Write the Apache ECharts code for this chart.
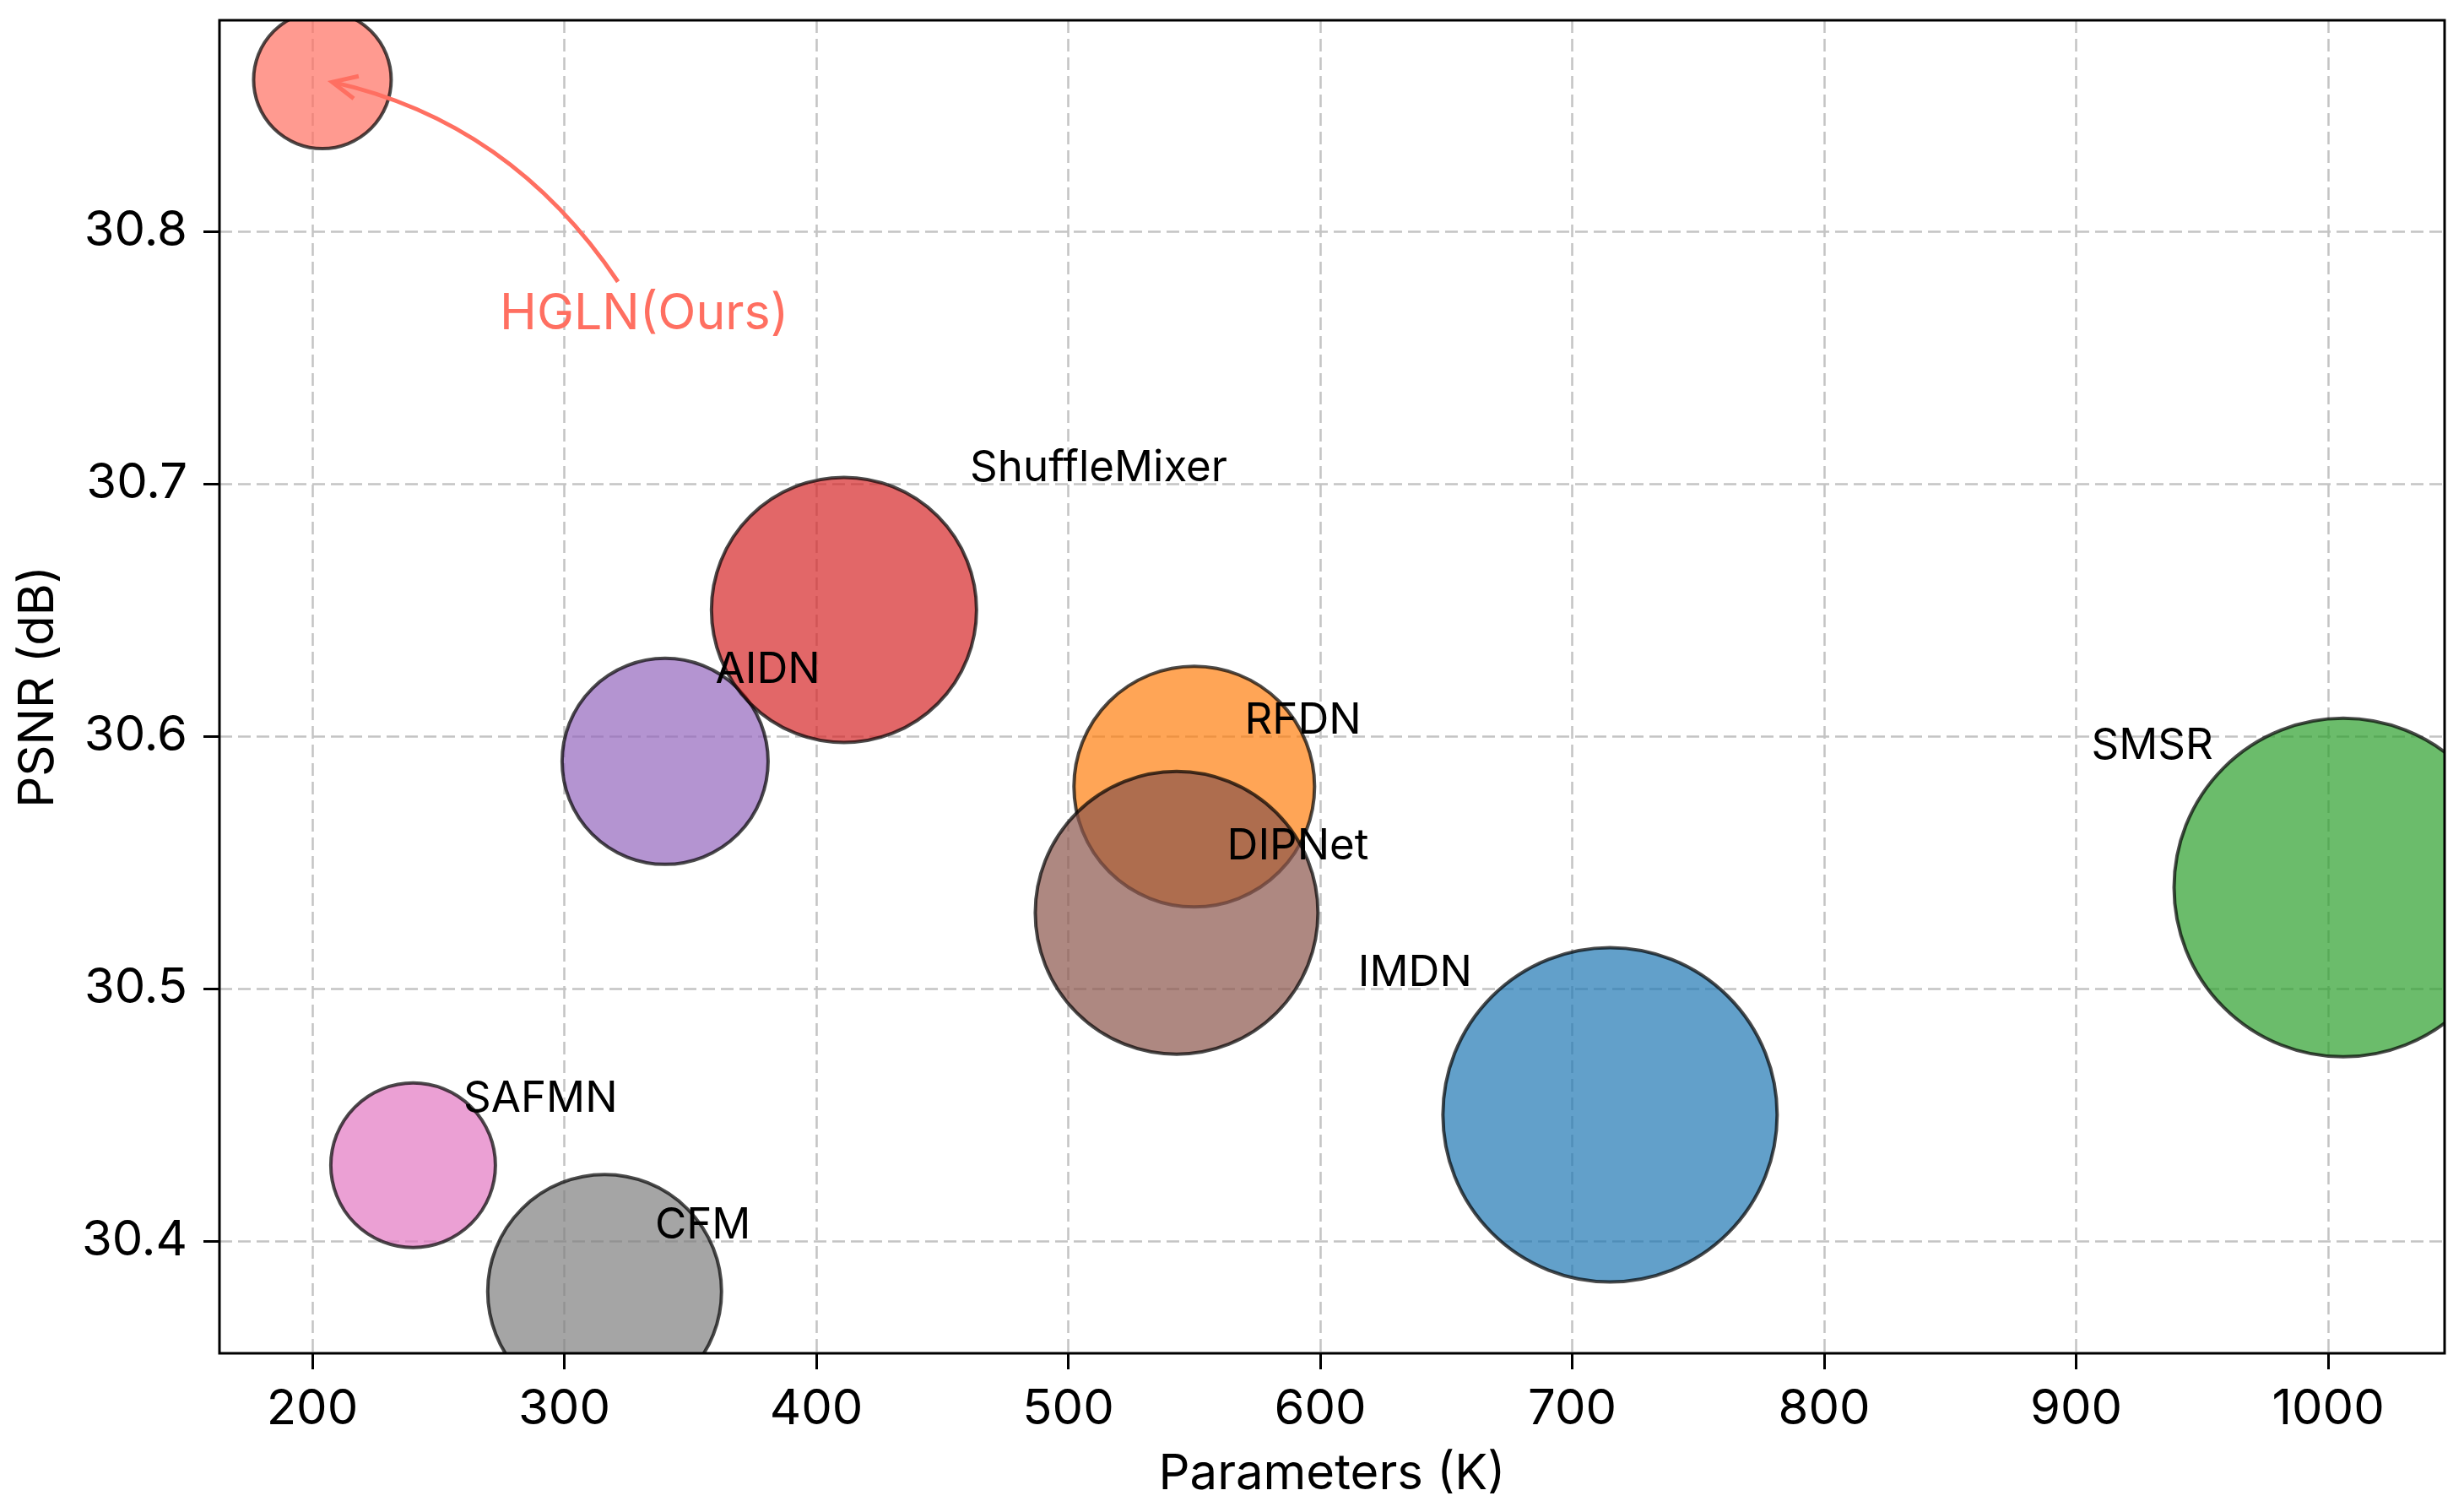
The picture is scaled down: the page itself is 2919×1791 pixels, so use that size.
<!DOCTYPE html>
<html>
<head>
<meta charset="utf-8">
<title>PSNR vs Parameters</title>
<script src="https://cdn.jsdelivr.net/npm/echarts@6/dist/echarts.min.js"></script>
<style>
  html, body { margin: 0; padding: 0; background: #fff; }
  #chart { width: 2919px; height: 1791px; }
</style>
</head>
<body>
<div id="chart"></div>
<script>
  // values
  var models = ['HGLN(Ours)', 'SAFMN', 'CFM', 'AIDN', 'ShuffleMixer', 'RFDN', 'DIPNet', 'IMDN', 'SMSR'];
  var params = [204, 240, 316, 340, 411, 550, 543, 715, 1006];
  var psnr   = [30.86, 30.43, 30.38, 30.59, 30.65, 30.58, 30.53, 30.45, 30.54];
  var area   = [1530, 2190, 4420, 3430, 5680, 4680, 6460, 9030, 9260];   // marker area, pt^2
  var xTicks = [200, 300, 400, 500, 600, 700, 800, 900, 1000];
  var yTicks = [30.4, 30.5, 30.6, 30.7, 30.8];

  // styling
  var FONT = 'Inter';
  var colors = ['#FF6F61', '#e377c2', '#7f7f7f', '#9467bd', '#d62728', '#ff7f0e', '#8c564b', '#1f77b4', '#2ca02c'];
  // text offset from each bubble, in data units (x, y)
  var labelShift = [null, [20, 0.02], [20, 0.02], [20, 0.03], [50, 0.05], [20, 0.02], [20, 0.02], [-100, 0.05], [-100, 0.05]];
  var ours = 0;
  var annotAt = [331.7, 30.767];     // centre of "HGLN(Ours)"
  var arrowFrom = [321.3, 30.780];   // where the arrow leaves the text
  var ARC = 0.2, SHRINK = 12, HEAD = 32, HEAD_ANGLE = 25 * Math.PI / 180;
  var PX_PER_PT = 300 / 72;
  var MID = 0.364;                   // cap centre above baseline, em
  var LABEL_SIZE = 51, ANNOT_SIZE = 59, AXIS_SIZE = 58;

  var data = models.map(function (m, i) { return [params[i], psnr[i], area[i]]; });

  function renderBubble(p, api) {
    var i = p.dataIndex;
    var c = api.coord([api.value(0), api.value(1)]);
    var r = Math.sqrt(api.value(2)) * PX_PER_PT / 2;
    var kids = [{
      type: 'circle', z2: i,
      shape: { cx: c[0], cy: c[1], r: r },
      style: { fill: colors[i], stroke: '#000', lineWidth: 4, opacity: 0.7 }
    }];
    if (i === ours) {
      var t = api.coord(annotAt);
      kids.push({
        type: 'text', z2: 100,
        style: { text: models[i], x: t[0], y: t[1], fill: '#FF6F61', fontSize: ANNOT_SIZE,
                 fontFamily: FONT, align: 'center', verticalAlign: 'middle' }
      });
      var s = api.coord(arrowFrom);
      var dx = c[0] - s[0], dy = c[1] - s[1];
      var cp = [(s[0] + c[0]) / 2 - ARC * dy, (s[1] + c[1]) / 2 + ARC * dx];
      var ux = cp[0] - c[0], uy = cp[1] - c[1];
      var ul = Math.sqrt(ux * ux + uy * uy);
      ux /= ul; uy /= ul;
      var tip = [c[0] + SHRINK * ux, c[1] + SHRINK * uy];
      function arm(a) {
        var ca = Math.cos(a), sa = Math.sin(a);
        return [tip[0] + HEAD * (ux * ca - uy * sa), tip[1] + HEAD * (ux * sa + uy * ca)];
      }
      kids.push({
        type: 'bezierCurve', z2: 100,
        shape: { x1: s[0], y1: s[1], x2: tip[0], y2: tip[1], cpx1: cp[0], cpy1: cp[1] },
        style: { stroke: '#FF6F61', lineWidth: 5, fill: null }
      });
      kids.push({
        type: 'polyline', z2: 100,
        shape: { points: [arm(HEAD_ANGLE), tip, arm(-HEAD_ANGLE)] },
        style: { stroke: '#FF6F61', lineWidth: 5, fill: null }
      });
    } else {
      var sh = labelShift[i];
      var q = api.coord([api.value(0) + sh[0], api.value(1) + sh[1]]);
      kids.push({
        type: 'text', z2: 100,
        style: { text: models[i], x: q[0], y: q[1] - MID * LABEL_SIZE, fill: '#000',
                 fontSize: LABEL_SIZE, fontFamily: FONT, align: 'left', verticalAlign: 'middle' }
      });
    }
    return { type: 'group', children: kids };
  }

  var gridLine = { show: true, lineStyle: { color: '#c4c4c4', width: 2.5, type: [15, 7] } };
  var tickStyle = { show: true, inside: false, length: 19, lineStyle: { color: '#000', width: 3 } };
  var labelStyle = {
    color: '#000', fontSize: AXIS_SIZE, fontFamily: FONT, margin: 38,
    formatter: function (v) { return String(v); }
  };

  var chart = echarts.init(document.getElementById('chart'));
  chart.setOption({
    backgroundColor: '#fff',
    animation: false,
    textStyle: { fontFamily: FONT },
    grid: {
      left: 260, right: 23, top: 24, bottom: 188,
      containLabel: false, outerBoundsMode: 'none',
      show: true, borderColor: '#000', borderWidth: 3, backgroundColor: 'transparent', z: 5
    },
    xAxis: {
      type: 'value', min: 163.15, max: 1046.2, minInterval: 100, maxInterval: 100,
      name: 'Parameters (K)', nameLocation: 'middle', nameGap: 115,
      nameTextStyle: { color: '#000', fontSize: AXIS_SIZE, fontFamily: FONT },
      axisLine: { show: false },
      axisTick: Object.assign({ customValues: xTicks }, tickStyle),
      axisLabel: Object.assign({ customValues: xTicks }, labelStyle),
      splitLine: gridLine
    },
    yAxis: {
      type: 'value', min: 30.3555, max: 30.8836, minInterval: 0.1, maxInterval: 0.1,
      name: 'PSNR (dB)', nameLocation: 'middle', nameGap: 185,
      nameTextStyle: { color: '#000', fontSize: AXIS_SIZE, fontFamily: FONT },
      axisLine: { show: false },
      axisTick: Object.assign({ customValues: yTicks }, tickStyle),
      axisLabel: Object.assign({ customValues: yTicks }, labelStyle),
      splitLine: gridLine
    },
    series: [{
      type: 'custom',
      clip: true,
      encode: { x: 0, y: 1 },
      data: data,
      renderItem: renderBubble
    }]
  });
</script>
</body>
</html>
